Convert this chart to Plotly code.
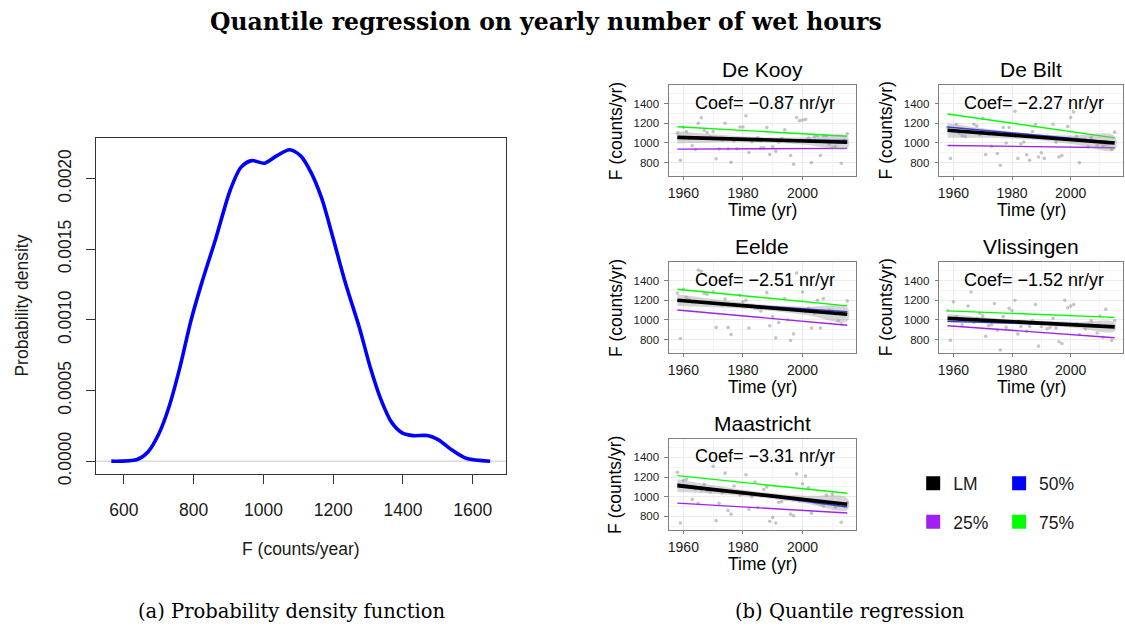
import plotly.graph_objects as go

W, H = 1125, 635
SANS = "Liberation Sans, Arial, sans-serif"
SERIF = "DejaVu Serif, serif"


def px(x):
    return x / W


def py(y):
    return 1 - y / H


# ---- (a) kernel density of yearly wet-hour counts ----
dens_x = [564, 638, 669, 700, 730, 761, 792, 823, 864, 905, 936, 967, 1003,
          1039, 1075, 1106, 1136, 1167, 1198, 1234, 1275, 1306, 1337, 1368,
          1399, 1429, 1470, 1501, 1542, 1583, 1650]
dens_y = [0, 0.0000116, 0.000065, 0.000192, 0.000389, 0.000667, 0.000992,
          0.00126, 0.00158, 0.001919, 0.002081, 0.002127, 0.002109,
          0.002162, 0.002204, 0.002162, 0.002046, 0.001861, 0.001594,
          0.00127, 0.000946, 0.000667, 0.000436, 0.000273, 0.000199,
          0.000181, 0.000181, 0.000153, 0.0000765, 0.0000185, 0]
dens_xticks = [600, 800, 1000, 1200, 1400, 1600]
dens_yticks = [0, 0.0005, 0.0010, 0.0015, 0.0020]

# ---- (b) yearly counts per station ----
years = list(range(1958, 2016))
F_de_kooy = [1100, 823, 1160, 1117, 1045, 973, 933, 1200, 1257, 1127, 1107,
             1060, 1117, 840, 940, 1030, 1200, 940, 803, 1020, 940, 1163,
             1163, 1277, 903, 1013, 1040, 1055, 950, 950, 1157, 883, 960,
             917, 1007, 1045, 1133, 1020, 873, 783, 1260, 1227, 1233, 1240,
             1050, 800, 1067, 1073, 873, 1073, 1073, 985, 950, 965, 1005,
             793, 1030, 1093]
F_de_bilt = [1160, 843, 1120, 1190, 1100, 1073, 1067, 1130, 1110, 1190,
             1173, 1083, 1250, 883, 1090, 967, 1105, 893, 773, 1157, 1000,
             1157, 1085, 1323, 843, 990, 1010, 880, 823, 1117, 1190, 857,
             900, 843, 1067, 1050, 1190, 1007, 857, 873, 1040, 1167, 1260,
             1317, 1067, 800, 1030, 1040, 960, 1057, 1010, 973, 1000, 973,
             983, 990, 933, 1110]
F_eelde = [1273, 810, 1310, 1230, 1205, 1180, 1195, 1507, 1493, 1267, 1260,
           1175, 1283, 923, 1167, 1150, 1213, 923, 850, 1160, 1140, 1250,
           1183, 1200, 917, 1140, 1120, 1117, 1090, 1130, 1277, 940, 1033,
           817, 973, 1110, 1217, 1000, 790, 857, 1477, 1100, 1283, 1085,
           1117, 917, 1070, 1200, 917, 1217, 1080, 1100, 1090, 1060, 990,
           960, 1050, 1193]
F_vlissingen = [1093, 793, 1183, 1033, 1000, 950, 990, 1140, 1283, 975,
                1017, 1067, 1040, 833, 940, 950, 1167, 893, 693, 1033, 923,
                1117, 1093, 1200, 857, 933, 980, 883, 933, 990, 1157, 733,
                933, 960, 910, 923, 1017, 917, 777, 760, 1200, 1123, 1140,
                1157, 960, 850, 945, 907, 950, 990, 940, 867, 1040, 823,
                1107, 930, 790, 993]
F_maastricht = [1250, 733, 1167, 1177, 1100, 973, 1080, 933, 1070, 1127,
                1060, 1050, 1310, 757, 933, 1040, 1240, 860, 823, 1110,
                1050, 1017, 1030, 1223, 873, 1000, 1150, 890, 1010, 1073,
                1100, 750, 790, 733, 943, 950, 983, 990, 823, 807, 1233,
                960, 1133, 1210, 1090, 833, 940, 933, 925, 907, 1017, 940,
                1027, 893, 915, 740, 900, 940]

stations = ["De Kooy", "De Bilt", "Eelde", "Vlissingen", "Maastricht"]
station_F = [F_de_kooy, F_de_bilt, F_eelde, F_vlissingen, F_maastricht]

# linear-model slope (nr/yr) and fitted value in the first year
lm_coef = [-0.87, -2.27, -2.51, -1.52, -3.31]
lm_first = [1057, 1129, 1200, 1015, 1113]
# quantile-regression fits at the first and last year
q25_first = [937, 975, 1100, 940, 935]
q25_last = [945, 952, 945, 818, 835]
q50_first = [1052, 1162, 1198, 985, 1130]
q50_last = [1025, 1008, 1083, 935, 895]
q75_first = [1165, 1295, 1312, 1092, 1215]
q75_last = [1068, 1052, 1142, 1025, 1035]
# half-width of the LM confidence ribbon at band_years
band_years = [1958, 1972, 1986.5, 2001, 2015]
band_de_kooy = [62, 38, 26, 38, 62]
band_de_bilt = [75, 45, 30, 45, 72]
band_eelde = [60, 40, 28, 42, 70]
band_vlissingen = [45, 30, 22, 30, 45]
band_maastricht = [65, 40, 28, 40, 62]
station_band = [band_de_kooy, band_de_bilt, band_eelde, band_vlissingen,
                band_maastricht]

panel_xticks = [1960, 1980, 2000]
panel_xminor = [1950, 1970, 1990, 2010]
panel_yticks = [800, 1000, 1200, 1400]
panel_yminor = [700, 900, 1100, 1300, 1500]

legend_names = ["LM", "50%", "25%", "75%"]
legend_colors = ["#000000", "#0000FF", "#A020F0", "#00FF00"]
C_LM, C_Q50, C_Q25, C_Q75 = legend_colors

fig = go.Figure()
layout = dict(
    width=W, height=H, margin=dict(l=0, r=0, t=0, b=0),
    paper_bgcolor="white", plot_bgcolor="white", showlegend=True,
    font=dict(family=SANS, color="#1a1a1a"),
)
annotations = []
shapes = []


def label(text, x, y, size, family=SANS, angle=0, color="#000", **kw):
    annotations.append(dict(text=text, x=x, y=y, xref=kw.pop("xref", "paper"),
                            yref=kw.pop("yref", "paper"), showarrow=False,
                            xanchor="center", yanchor="middle", textangle=angle,
                            font=dict(size=size, family=family, color=color), **kw))


# ---- left panel ----
fig.add_trace(go.Scatter(
    x=dens_x, y=dens_y, mode="lines",
    line=dict(color="#0000FF", width=3.6, shape="spline", smoothing=0.8),
    xaxis="x", yaxis="y", showlegend=False, hoverinfo="skip"))
layout["xaxis"] = dict(
    domain=[px(95.4), px(505.3)], range=[521, 1695], anchor="y",
    tickvals=dens_xticks, ticks="outside", ticklen=9, tickcolor="#333",
    showline=True, mirror=True, linecolor="#333", linewidth=1,
    showgrid=False, zeroline=False, ticklabelstandoff=11,
    tickfont=dict(size=17.5, color="#1a1a1a"))
layout["yaxis"] = dict(
    domain=[py(482), py(140)], range=[-0.0000883, 0.00229], anchor="x",
    tickvals=dens_yticks, ticktext=[f"{v:.4f}" for v in dens_yticks],
    tickangle=-90, ticks="outside", ticklen=9, tickcolor="#333",
    showline=True, mirror=True, linecolor="#333", linewidth=1,
    showgrid=False, zeroline=False, ticklabelstandoff=8,
    tickfont=dict(size=17.5, color="#1a1a1a"))
shapes.append(dict(type="line", xref="x domain", yref="y", x0=0, x1=1, y0=0, y1=0,
                   line=dict(color="#c8c8c8", width=1), layer="below"))
label("F (counts/year)", px(300), py(559), 17.5, color="#1a1a1a")
label("Probability density", px(21), py(311), 17.5, angle=-90, color="#1a1a1a")

# ---- right facets ----
col_x = [(668.5, 855.5), (939, 1123)]
row_y = [(87, 179), (267, 359), (447, 539)]
cells = [(0, 0), (0, 1), (1, 0), (1, 1), (2, 0)]
x_first, x_last = years[0], years[-1]
span = x_last - x_first

for i, name in enumerate(stations):
    k = i + 2
    r, c = cells[i]
    (x0, x1), (y0, y1) = col_x[c], row_y[r]
    xr, yr = f"x{k}", f"y{k}"

    fig.add_trace(go.Scatter(
        x=years, y=station_F[i], mode="markers", xaxis=xr, yaxis=yr, showlegend=False,
        marker=dict(color="rgba(150,150,150,0.55)", size=3.6), hoverinfo="skip"))

    for a, b, col in [(q25_first[i], q25_last[i], C_Q25), (q75_first[i], q75_last[i], C_Q75),
                      (q50_first[i], q50_last[i], C_Q50)]:
        fig.add_trace(go.Scatter(
            x=[x_first, x_last], y=[a, b], mode="lines", xaxis=xr, yaxis=yr,
            line=dict(color=col, width=1.4), showlegend=False, hoverinfo="skip"))

    lm_at = [lm_first[i] + lm_coef[i] * (t - x_first) for t in band_years]
    hw = station_band[i]
    upper = [m + h for m, h in zip(lm_at, hw)]
    lower = [m - h for m, h in zip(lm_at, hw)]
    fig.add_trace(go.Scatter(
        x=band_years + band_years[::-1], y=upper + lower[::-1], mode="lines",
        fill="toself", fillcolor="rgba(153,153,153,0.4)", line=dict(width=0, shape="spline"),
        xaxis=xr, yaxis=yr, showlegend=False, hoverinfo="skip"))
    fig.add_trace(go.Scatter(
        x=[x_first, x_last], y=[lm_first[i], lm_first[i] + lm_coef[i] * span],
        mode="lines", xaxis=xr, yaxis=yr, line=dict(color=C_LM, width=3.6),
        showlegend=False, hoverinfo="skip"))

    layout[f"xaxis{k}"] = dict(
        domain=[px(x0), px(x1)], range=[1955.15, 2017.85], anchor=yr,
        tickvals=panel_xticks, ticks="outside", ticklen=3.5, tickcolor="#7f7f7f",
        showline=True, mirror=True, linecolor="#7f7f7f", linewidth=1,
        showgrid=True, gridcolor="#ebebeb", gridwidth=1, zeroline=False,
        minor=dict(tickvals=panel_xminor, showgrid=True, gridcolor="#f4f4f4", gridwidth=0.6, ticks=""),
        tickfont=dict(size=14, color="#1a1a1a"), ticklabelstandoff=1)
    layout[f"yaxis{k}"] = dict(
        domain=[py(y1), py(y0)], range=[665, 1585], anchor=xr,
        tickvals=panel_yticks, ticks="outside", ticklen=3.5, tickcolor="#7f7f7f",
        showline=True, mirror=True, linecolor="#7f7f7f", linewidth=1,
        showgrid=True, gridcolor="#ebebeb", gridwidth=1, zeroline=False,
        minor=dict(tickvals=panel_yminor, showgrid=True, gridcolor="#f4f4f4", gridwidth=0.6, ticks=""),
        tickfont=dict(size=11.5, color="#1a1a1a"), ticklabelstandoff=3)

    cx = (x0 + x1) / 2
    label(name, px(cx), py(y0 - 16), 21)
    label(f"Coef= \u2212{abs(lm_coef[i]):.2f} nr/yr", (x_first + x_last) / 2 + 1, 1410, 18,
          xref=xr, yref=yr)
    label("Time (yr)", px(cx), py(y1 + 35), 17.5)
    label("F (counts/yr)", px(x0 - 53.5), py((y0 + y1) / 2), 17.5, angle=-90)

# ---- legend keys, one legend per entry ----
legend_pos = [(913, 492), (999, 492), (913, 531), (999, 531)]
for j, (nm, col) in enumerate(zip(legend_names, legend_colors)):
    lid = "legend" if j == 0 else f"legend{j + 1}"
    fig.add_trace(go.Scatter(
        x=[None], y=[None], mode="markers", name=nm, legend=lid,
        marker=dict(symbol="square", size=14, color=col), xaxis="x2", yaxis="y2"))
    lx, ly = legend_pos[j]
    layout[lid] = dict(x=px(lx), y=py(ly), xanchor="left", yanchor="middle",
                       bgcolor="rgba(0,0,0,0)", font=dict(size=17.5, family=SANS, color="#1a1a1a"),
                       itemclick=False, itemdoubleclick=False)

# ---- overall title and sub-captions ----
label("<b>Quantile regression on yearly number of wet hours</b>", px(545), py(22), 23.5, family=SERIF)
label("(a) Probability density function", px(291), py(622), 19.5, family=SERIF)
label("(b) Quantile regression", px(850), py(622), 19.5, family=SERIF)

layout["annotations"] = annotations
layout["shapes"] = shapes
fig.update_layout(**layout)
fig.write_html("out.html")
